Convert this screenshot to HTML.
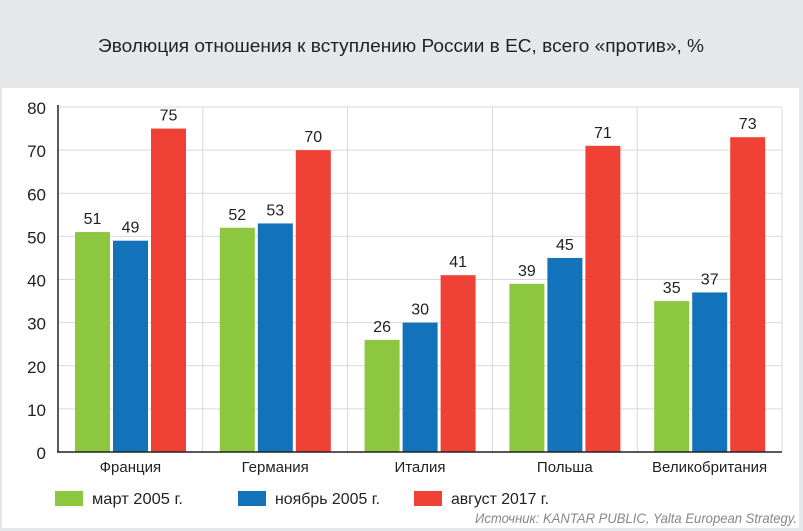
<!DOCTYPE html>
<html><head><meta charset="utf-8"><style>
body{margin:0;width:803px;height:531px;background:#e6e7e9;font-family:"Liberation Sans",sans-serif;overflow:hidden}
#panel{position:absolute;left:2px;top:88px;width:797px;height:440px;background:#fff}
</style></head><body>
<div id="panel"></div>
<svg id="chart" width="803" height="531" style="position:absolute;left:0;top:0">
<text x="401" y="52" text-anchor="middle" font-size="18" fill="#222" textLength="606" lengthAdjust="spacingAndGlyphs">Эволюция отношения к вступлению России в ЕС, всего «против», %</text>
</svg>
<script>
const categories=["Франция","Германия","Италия","Польша","Великобритания"];
const march2005=[51,52,26,39,35];
const nov2005=[49,53,30,45,37];
const aug2017=[75,70,41,71,73];
const yTicks=[0,10,20,30,40,50,60,70,80];
const seriesNames=["март 2005 г.","ноябрь 2005 г.","август 2017 г."];
const colors=["#8dc63f","#1273bb","#ef4136"];
const svg=document.getElementById('chart');const NS='http://www.w3.org/2000/svg';
const x0=58,x1=782,y0=452,y1=107,ymax=80;
const gw=(x1-x0)/categories.length;
const y=v=>y0-(v/ymax)*(y0-y1);
function mk(t,a,txt){const e=document.createElementNS(NS,t);for(const k in a)e.setAttribute(k,a[k]);if(txt!==undefined)e.textContent=txt;svg.appendChild(e);return e;}
yTicks.forEach(t=>{
 if(t>0){const g=mk('line',{x1:x0,x2:x1,y1:y(t),y2:y(t),stroke:'#d9d9d9','stroke-width':1});
 
 }
 const l=mk('text',{x:46,y:y(t)+7,'text-anchor':'end','font-size':17,fill:'#222'},t);
 
 
});
for(let i=1;i<=categories.length;i++){const s=mk('line',{x1:x0+gw*i,x2:x0+gw*i,y1:y1,y2:y0,stroke:'#d9d9d9','stroke-width':1});
 
 }
const series=[march2005,nov2005,aug2017];
categories.forEach((c,i)=>{
 series.forEach((arr,j)=>{
  const bx=x0+gw*i+17+j*38;
  const r=mk('rect',{x:bx,y:y(arr[i]),width:35,height:y0-y(arr[i]),fill:colors[j]});
  
  
  const v=mk('text',{x:bx+17.5,y:y(arr[i])-8,'text-anchor':'middle','font-size':16,fill:'#222'},arr[i]);
  
  
 });
 const cl=mk('text',{x:x0+gw*i+gw/2,y:472,'text-anchor':'middle','font-size':15,fill:'#222'},c);
 
 
});
const ax=mk('line',{x1:x0,x2:x0,y1:y1-2,y2:y0,stroke:'#222','stroke-width':1.5});


const bl=mk('line',{x1:x0-1,x2:x1,y1:y0,y2:y0,stroke:'#222','stroke-width':1.5});


const lx=[55,238,414];
const lw=[91,105,98];
seriesNames.forEach((n,j)=>{
 const s=mk('rect',{x:lx[j],y:491,width:28,height:15,fill:colors[j]});
 
 
 const t=mk('text',{x:lx[j]+37,y:504,'font-size':16,fill:'#222',textLength:lw[j],lengthAdjust:'spacingAndGlyphs'},n);
 
 
});
const src=mk('text',{x:797,y:523,'text-anchor':'end','font-size':14,'font-style':'italic',fill:'#888',textLength:322,lengthAdjust:'spacingAndGlyphs'},'Источник: KANTAR PUBLIC, Yalta European Strategy.');


</script>
</body></html>
